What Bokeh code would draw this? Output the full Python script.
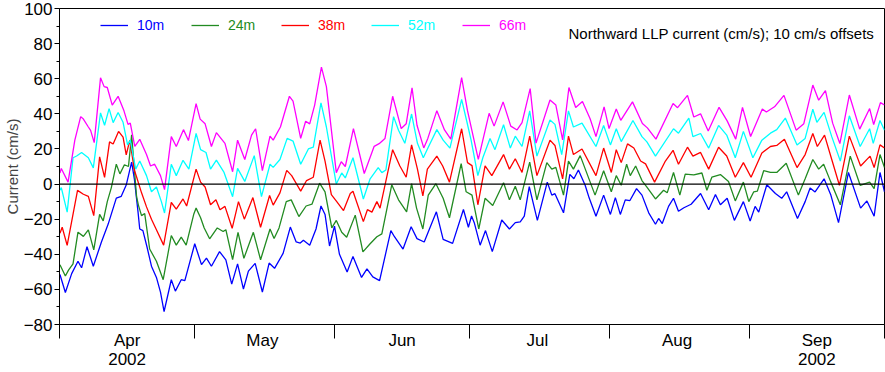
from bokeh.plotting import figure
from bokeh.models import FixedTicker, Span, Legend, LegendItem, Label, Range1d
from bokeh.embed import file_html
from bokeh.resources import INLINE

# days since 2002-04-01 00:00 and northward current (cm/s, with 10 cm/s offsets)
day10 = [0.1,1.3,2.7,4.1,4.9,6.1,7.5,9.3,10.8,12.6,13.7,14.8,16.0,16.6,17.4,17.8,18.5,19.4,20.4,21.5,22.4,23.2,24.8,25.7,27.0,27.8,30.0,31.5,32.6,33.7,35.5,36.9,38.2,39.5,40.8,41.9,43.4,45.0,46.5,47.7,49.6,51.2,52.5,53.4,54.1,55.5,56.9,58.0,58.9,59.9,61.0,62.1,63.8,65.1,67.0,68.2,69.5,71.0,73.5,74.3,76.2,78.0,79.3,80.9,83.6,85.1,87.2,89.6,90.7,91.4,92.0,93.3,94.5,96.0,98.1,99.8,101.1,102.2,103.1,104.2,106.0,108.2,109.2,109.9,111.8,113.2,114.1,115.1,116.6,117.5,119.0,120.7,122.2,123.3,124.4,125.5,126.5,128.0,129.2,130.7,132.2,132.9,133.7,135.1,136.2,137.3,138.5,140.1,142.2,144.0,145.5,146.6,148.1,149.7,151.7,153.2,154.3,155.1,156.9,158.8,160.2,161.3,163.7,165.4,166.5,167.6,169.6,171.1,172.8,175.0,177.7,179.1,180.7,182.0,183.0]
val10 = [-51.5,-61.8,-51,-44,-47.7,-35.7,-46.8,-33,-22.8,-8,-7,-0.6,12.5,3,-15.4,-25.6,-26.5,-35.7,-46.8,-53.2,-61.6,-72.6,-54.5,-61,-54.5,-55,-34,-45.9,-42.2,-46.8,-38.5,-43.2,-57,-45.5,-59.8,-49.6,-45.2,-61.5,-45,-48,-39.5,-24.5,-33,-33.6,-32,-34.8,-25.6,-12.5,-17.3,-35.3,-24,-40,-50.1,-41.2,-53.2,-48.3,-52.9,-55,-26.5,-30,-37,-24.3,-31.1,-33,-15.8,-31.5,-33.8,-14.5,-24.6,-18.2,-22,-34.8,-26.5,-38.5,-20.5,-25.6,-22,-21.5,-18.3,-1.5,-20.7,1.1,-6.3,-5.5,-16.4,5.5,3,8,-0.7,-8,-18.3,-6.3,-17.3,-7.7,-17.3,-9,-9.5,-2.6,-6.3,-16.4,-22.9,-19.6,-22.5,-12.7,-8.1,-15.5,-13.5,-11.5,-5.4,-14.6,-5.9,-11.8,-8.1,-20.7,-10,-21,-12.7,-16,-0.4,-5.4,-8.1,-4.4,-19.6,-10,-2.2,-4.5,3,-6.3,-22,6.6,-13.7,-9.6,-18.3,6.6,-4.4]

day24 = [0.1,1.3,2.0,3.0,4.1,5.3,6.4,7.6,8.9,9.7,10.6,11.5,12.6,13.4,14.4,15.3,16.0,17.1,17.5,18.2,18.9,20.0,21.5,23.0,24.8,25.9,27.0,28.1,29.8,30.3,31.3,32.1,33.3,35.0,36.3,36.9,38.4,39.6,40.9,43.0,44.6,46.7,47.6,48.7,50.3,51.4,53.1,54.7,56.0,57.7,58.9,60.4,61.4,62.6,63.7,65.6,67.3,68.9,70.4,71.5,73.7,75.2,77.0,78.1,79.2,80.6,81.8,83.5,85.1,86.5,89.1,90.2,91.5,93.0,94.4,96.1,98.5,99.8,101.1,102.2,104.3,105.9,108.1,109.2,110.1,111.8,112.9,114.0,115.5,118.8,120.7,122.4,123.5,124.6,125.8,126.6,127.8,129.2,130.3,132.2,134.0,134.8,136.2,137.6,138.8,140.7,142.5,143.6,144.7,146.6,148.4,149.9,151.7,152.9,154.0,154.8,156.2,157.7,159.1,161.2,163.9,165.4,167.1,168.4,169.5,171.1,173.2,175.4,177.6,179.7,180.7,182.0,183.0]
val24 = [-46,-52.4,-49,-45.5,-27.4,-29.8,-26.1,-37.5,-17.3,-21,-10,-2,11.3,5.8,11,10,28,-7.2,-12,-18,-16.8,-37,-44,-54.5,-29.3,-34.8,-30.2,-34.8,-17,-13.7,-19.2,-25,-31.2,-25,-27,-26,-43.1,-27.5,-42.3,-27.5,-43.1,-25.6,-31,-25,-10,-9,-18.5,-12.5,-11.5,0.5,-4.4,-25,-20.7,-27.5,-30.3,-17.7,-38.6,-34,-30,-28.4,-0.4,-9,-15.9,0.2,-13.7,-25.6,-6.3,0.2,-8.1,-19.2,11.6,-4.4,-6.3,-25.6,-8.1,-12.2,0.7,-9,-1.3,-9,12.5,-9,12.2,8.5,9.5,-6.3,13.1,8.5,16.2,-6.3,7.6,-4.4,4.8,-0.7,11.3,4.8,10.3,2,-1.7,-8.5,-3.5,-5,6.6,-6.3,5.7,5.2,6.3,-3.5,3.9,5.4,1.5,-9.6,1.1,-10,-4.4,-4,7.6,6.6,6.6,11.8,-6.3,3,14,8.5,11.3,1.1,-11.8,15.9,-0.7,1.1,-2.6,16.8,9.4]

day38 = [0.1,0.6,1.7,4.0,5.3,6.4,7.6,8.9,10.0,11.1,11.9,13.1,14.1,14.8,15.6,16.6,17.1,18.2,19.3,20.4,21.5,23.1,24.8,25.9,27.4,28.2,30.3,31.3,32.3,33.5,34.7,35.6,36.7,38.3,39.7,41.0,42.9,44.6,46.6,47.4,48.9,50.4,51.5,53.5,54.8,56.3,57.8,58.9,60.3,61.5,63.0,64.5,65.1,67.4,68.3,69.3,70.4,71.1,73.9,75.5,76.9,78.1,79.4,80.6,81.6,83.7,85.0,86.5,89.2,90.5,91.5,92.8,94.4,95.9,98.5,99.8,101.1,102.6,104.3,105.9,108.8,109.9,111.6,112.9,114.0,115.9,119.0,120.7,122.4,123.5,124.6,126.0,127.4,128.9,130.0,132.0,134.4,136.1,137.3,139.3,140.5,142.2,144.0,146.2,148.0,149.9,151.7,153.4,155.8,157.7,159.1,160.8,163.6,165.4,167.1,168.1,169.7,171.3,173.0,175.2,177.7,179.8,180.7,182.0,183.0]
val38 = [-28,-24.6,-34.9,-3.6,-5.8,-7,-18,15.5,3.8,24,22.8,30,26.7,16.6,25,8,4,-5,-13,-20,-26,-34.8,-10.5,-14.3,-8.5,-12.5,8.5,1.1,-1.7,-11.8,-9,-14.6,-12.7,-25.2,-10,-20,-7.7,-24.6,-6.5,-12,-5,7.8,4.8,-4,2,3.9,25,13.1,-6,-10,-15.1,-5.4,-4.1,-21.4,-14.6,-16,-10,-13.7,19.6,10.3,3.9,22.3,8.5,-6.8,8.5,15.9,10.3,1.1,31.5,12.2,10.5,-11.8,10.3,4.8,16.8,8.5,14.4,6.6,27.3,4.8,25,22,3,27.3,16.8,20,4.8,20.5,6.6,19.6,12.2,22.9,20.5,13.1,11.5,1.1,13.1,19.2,11.3,21,15.9,18,8.5,21,16,3.9,12.2,3.9,17.7,21.4,22,25.5,9.4,16.8,28.8,21.4,27.9,14,-0.7,27.3,10.3,15.9,9.4,22.3,20.5]

day52 = [0.1,0.4,1.7,3.0,3.8,4.9,6.4,7.5,9.1,10.0,11.0,11.9,13.0,14.1,15.1,15.7,16.9,17.8,19.3,20.4,21.5,22.6,23.3,24.8,25.9,27.4,28.7,30.3,31.3,32.5,33.5,34.8,36.5,38.4,39.5,41.1,43.2,44.8,46.7,47.4,48.9,50.5,51.8,53.5,55.2,56.3,58.0,59.2,61.4,62.6,63.4,65.1,67.4,68.9,70.7,71.5,72.4,74.1,75.2,76.6,78.1,79.4,80.7,81.8,83.7,85.1,86.6,89.2,90.3,91.3,92.8,93.9,95.5,96.6,98.5,100.0,101.1,102.6,104.3,105.9,108.8,109.9,111.4,112.9,114.0,115.9,119.0,120.7,122.2,123.5,124.6,127.2,129.2,130.3,132.2,136.2,137.3,139.6,140.5,142.2,144.0,146.2,148.0,149.9,151.7,153.8,155.8,157.7,159.1,161.0,163.6,165.4,167.1,168.0,169.6,171.3,173.2,175.2,177.6,179.7,180.5,182.0,183.0]
val52 = [-3.5,-2,-16,15,16,18,15,9.2,40.5,33.5,43,35,40.8,35.2,22.3,25,8.5,13.1,4.8,-4.4,-1.7,-10,-16.5,11.3,4.8,13.5,8.5,28.8,19.6,18,8.5,13.6,6.6,-7.2,8.9,1.5,16.2,-7.2,11.3,9.5,14,26,24.5,11.3,20,21,46.3,32.5,0,6.3,3.5,15,-8.5,3,9.4,6.5,8,38.4,30.6,23.2,39.9,23.2,15,21,31,25,20.5,48.2,36.2,25,4.8,15,26,19.6,33.8,20.5,27.3,21.4,41.7,15.9,36.5,34,16.8,41.7,32.5,34.7,21.4,33.4,22.3,31.5,24.2,36.2,27,24,15.9,31.5,29,37.6,27,28.8,20.5,33.4,27.9,15,30,15,25,29,31,37.6,22.3,26,42.6,35.2,40.8,27,13.1,38.9,21.4,31.5,23.2,36.2,30.6]

day66 = [0.1,0.4,1.9,3.4,4.7,5.3,6.4,6.9,7.7,9.1,9.9,10.6,11.7,13.0,14.3,15.2,15.7,16.7,17.8,19.3,20.2,21.1,22.4,23.3,24.8,25.9,27.5,28.6,30.3,31.2,32.3,33.7,34.8,36.7,38.4,39.5,41.1,42.6,43.5,45.0,46.7,47.4,49.0,51.0,51.8,53.5,54.6,55.5,56.6,58.1,59.2,61.4,62.5,63.4,65.2,67.6,69.8,70.9,72.2,73.9,75.8,76.9,78.2,79.3,80.8,81.7,83.7,85.4,86.8,89.2,90.5,92.9,95.3,96.4,98.4,100.1,101.5,102.6,104.4,105.7,108.8,110.1,111.6,113.0,114.5,116.0,117.7,119.0,120.8,121.9,123.5,124.5,127.1,129.3,130.4,132.3,136.1,137.1,139.3,140.7,142.2,143.9,146.3,148.1,150.0,151.5,153.3,155.9,156.8,158.6,160.7,163.4,165.1,167.1,168.4,169.9,171.5,173.1,175.2,177.5,179.7,180.6,182.1,183.0]
val66 = [6.3,8.9,1.1,25,38.4,37,32.5,30.6,23.6,60.5,55.5,55,45,50,41.7,34,34.7,21.4,25.5,16.8,10.3,11.3,4.8,-3.2,27,21.4,31,24.8,45.8,37,34.3,21.4,29.3,23.2,7,25,14,27.9,31.5,7.6,27.3,25,32.5,50,47.2,26,35.8,34.3,45,66.6,55.5,6.5,12.7,10,31.6,6,21.5,23,26,50,31.6,34.3,54.8,33.5,20.6,26,41.8,30.8,25.6,60.6,41.8,14.1,40.3,33,46.8,33,30.8,35,54.4,23.3,47.9,45,25.2,55,43.6,47,37.2,27,44,31.6,42.8,36.3,46.8,34.5,32,25.6,45.9,43.5,50.5,38.2,40,30.2,43.7,36,25.6,43.7,27.1,42.7,41,44,50.5,30.7,34.4,56.4,47.8,53.2,34.7,23.1,50.7,31.3,43,33.9,46.4,45]

depths = ["10m", "24m", "38m", "52m", "66m"]
colors = ["#0000ff", "#228b22", "#ff0000", "#00ffff", "#ff00ff"]
series_days = [day10, day24, day38, day52, day66]
series_vals = [val10, val24, val38, val52, val66]

month_starts = [0, 30, 61, 91, 122, 153, 183]
month_mids = [15, 45, 76, 106, 137, 168]
month_labels = ["Apr\n2002", "May", "Jun", "Jul", "Aug", "Sep\n2002"]
y_major = [-80, -60, -40, -20, 0, 20, 40, 60, 80, 100]
y_minor = [-70, -50, -30, -10, 10, 30, 50, 70, 90]
title_text = "Northward LLP current (cm/s); 10 cm/s offsets"

FONT = "Liberation Sans"

p = figure(width=885, height=372, output_backend="svg", toolbar_location=None,
           x_range=Range1d(0, 183), y_range=Range1d(-80, 100),
           min_border_left=58, min_border_right=1, min_border_top=8, min_border_bottom=0)
p.xgrid.visible = False
p.ygrid.visible = False
p.outline_line_color = "black"
p.outline_line_width = 1
p.background_fill_color = "white"
p.border_fill_color = "white"

xa = p.xaxis[0]
xa.ticker = FixedTicker(ticks=month_mids, minor_ticks=month_starts)
xa.major_label_overrides = {m: lab for m, lab in zip(month_mids, month_labels)}
xa.major_tick_out = 0
xa.major_tick_in = 0
xa.minor_tick_out = 14
xa.minor_tick_in = 0
xa.minor_tick_line_color = "black"
xa.minor_tick_line_width = 1
xa.axis_line_color = "black"
xa.major_label_text_font = FONT
xa.major_label_text_font_size = "17px"
xa.major_label_text_line_height = 1.05
xa.major_label_text_color = "black"
xa.major_label_standoff = -8

ya = p.yaxis[0]
ya.ticker = FixedTicker(ticks=y_major, minor_ticks=y_minor)
ya.major_tick_out = 5
ya.major_tick_in = 0
ya.minor_tick_out = 3
ya.minor_tick_in = 0
ya.major_tick_line_color = "black"
ya.minor_tick_line_color = "black"
ya.axis_line_color = "black"
ya.major_label_text_font = FONT
ya.major_label_text_font_size = "17px"
ya.major_label_text_color = "black"
ya.major_label_standoff = 2
ya.axis_label = "Current (cm/s)"
ya.axis_label_text_font = FONT
ya.axis_label_text_font_size = "15px"
ya.axis_label_text_line_height = 1.0
ya.axis_label_text_font_style = "normal"
ya.axis_label_standoff = 0

p.add_layout(Span(location=0, dimension="width", line_color="black", line_width=1.2))

renderers = []
for d, v, c in zip(series_days, series_vals, colors):
    renderers.append(p.line(d, v, line_color=c, line_width=1.3))

legend_x = [41, 132, 222, 312, 403]
for lab, c, r, lx in zip(depths, colors, renderers, legend_x):
    leg = Legend(items=[LegendItem(label=lab, renderers=[r])], location=(lx, 291),
                 orientation="horizontal", label_text_color=c, label_text_font=FONT,
                 label_text_font_size="14px", glyph_width=28, glyph_height=16,
                 label_standoff=9, padding=0, margin=0, spacing=0,
                 border_line_alpha=0, background_fill_alpha=0)
    p.add_layout(leg, "center")

p.add_layout(Label(x=180.7, y=85.8, text=title_text, text_align="right", text_baseline="middle",
                   text_font=FONT, text_font_size="15px", text_color="black"))

open("out.html", "w").write(file_html(p, INLINE))
